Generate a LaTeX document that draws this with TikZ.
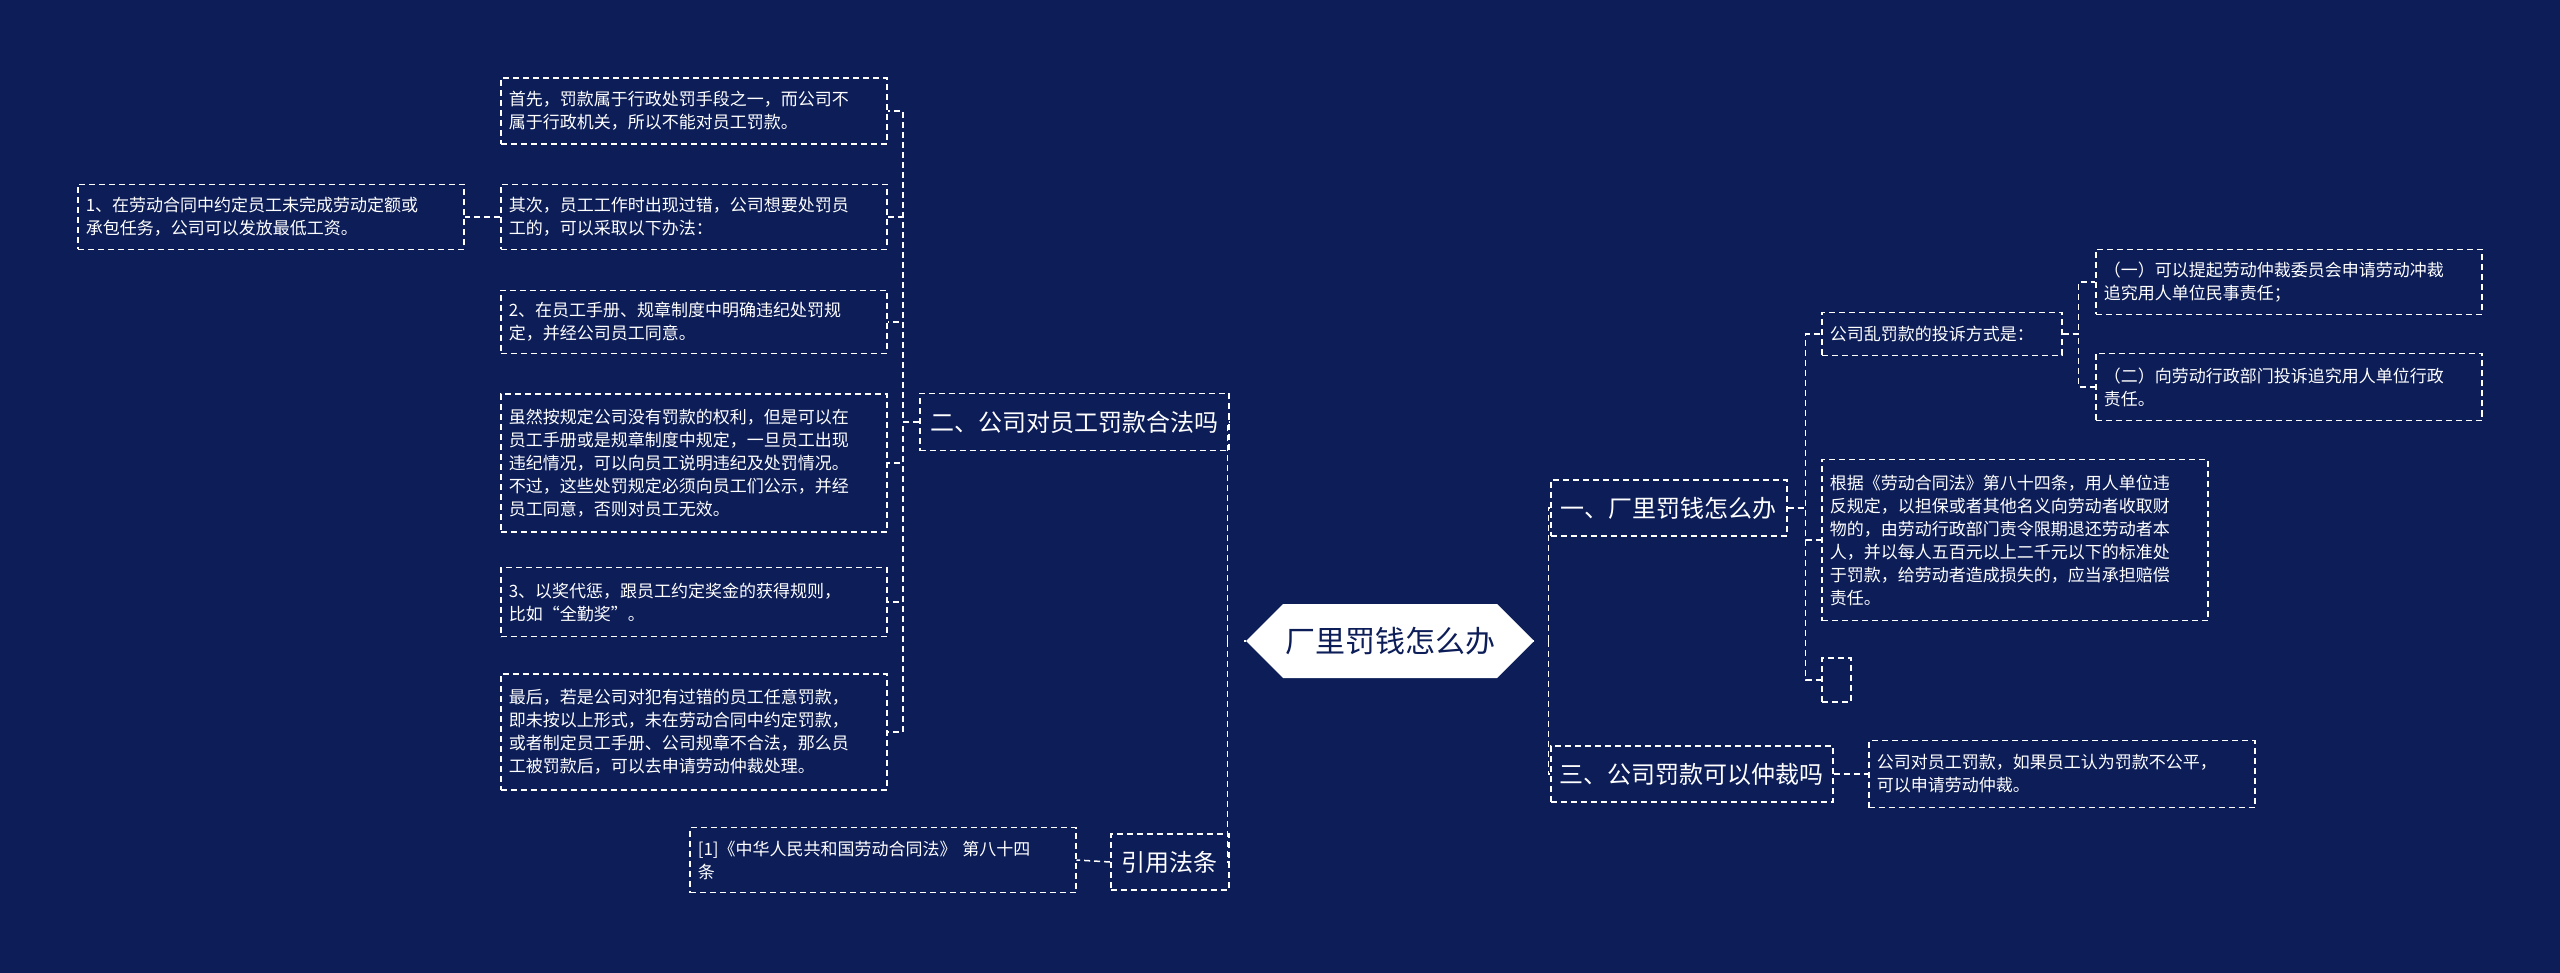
\documentclass[tikz,border=0pt]{standalone}
\usepackage{fontspec}
\setmainfont{Noto Sans CJK SC}
\usetikzlibrary{shapes.symbols}
\definecolor{bg}{HTML}{0C1D58}
\tikzset{
  dsh/.style={draw=white,line width=1.5pt,dash pattern=on 6pt off 4pt},
  leaf/.style={dsh,text=white,anchor=west,text width=370pt,inner sep=8pt,align=left,font=\fontsize{17}{23}\selectfont},
  branch/.style={dsh,text=white,anchor=west,inner sep=6pt,align=center,font=\fontsize{24}{28}\selectfont},
  link/.style={dsh},
}
\begin{document}
\begin{tikzpicture}[x=1pt,y=-1pt]
\fill[bg] (0,0) rectangle (2560,973);
\useasboundingbox (0,0) rectangle (2560,973);
% center
\node[signal,signal to=west and east,fill=white,minimum width=256pt,minimum height=74pt,inner sep=2pt,text=bg,font=\fontsize{30}{34}\selectfont] (c) at (1390,641) {厂里罚钱怎么办};
% left branch
\node[branch,minimum width=309pt,minimum height=57pt] (b2) at (919,422) {二、公司对员工罚款合法吗};
\node[branch,minimum width=118pt,minimum height=56pt] (ref) at (1110,862) {引用法条};
\node[leaf,minimum height=66pt] (a) at (500,111) {首先，罚款属于行政处罚手段之一，而公司不\\属于行政机关，所以不能对员工罚款。};
\node[leaf,minimum height=65pt] (b) at (500,217) {其次，员工工作时出现过错，公司想要处罚员\\工的，可以采取以下办法：};
\node[leaf,minimum height=63pt] (cc) at (500,322) { 2、在员工手册、规章制度中明确违纪处罚规\\定，并经公司员工同意。};
\node[leaf,minimum height=138pt] (d) at (500,463) {虽然按规定公司没有罚款的权利，但是可以在\\员工手册或是规章制度中规定，一旦员工出现\\违纪情况，可以向员工说明违纪及处罚情况。\\不过，这些处罚规定必须向员工们公示，并经\\员工同意，否则对员工无效。};
\node[leaf,minimum height=69pt] (e) at (500,602) { 3、以奖代惩，跟员工约定奖金的获得规则，\\比如“全勤奖”。};
\node[leaf,minimum height=116pt] (f) at (500,732) {最后，若是公司对犯有过错的员工任意罚款，\\即未按以上形式，未在劳动合同中约定罚款，\\或者制定员工手册、公司规章不合法，那么员\\工被罚款后，可以去申请劳动仲裁处理。};
\node[leaf,minimum height=65pt] (b1) at (77,217) {1、在劳动合同中约定员工未完成劳动定额或\\承包任务，公司可以发放最低工资。};
\node[leaf,minimum height=65pt] (r1) at (689,860) {[1]《中华人民共和国劳动合同法》 第八十四\\条};
% right branch
\node[branch,minimum width=236pt,minimum height=56pt] (b1r) at (1550,508) {一、厂里罚钱怎么办};
\node[branch,minimum width=282pt,minimum height=56pt] (b3) at (1550,774) {三、公司罚款可以仲裁吗};
\node[leaf,minimum height=67pt] (b3c) at (1868,774) {公司对员工罚款，如果员工认为罚款不公平，\\可以申请劳动仲裁。};
\node[leaf,text width=224pt,minimum height=43pt] (ts) at (1821,334) {公司乱罚款的投诉方式是：};
\node[leaf,minimum height=161pt] (big) at (1821,540) {根据《劳动合同法》第八十四条，用人单位违\\反规定，以担保或者其他名义向劳动者收取财\\物的，由劳动行政部门责令限期退还劳动者本\\人，并以每人五百元以上二千元以下的标准处\\于罚款，给劳动者造成损失的，应当承担赔偿\\责任。};
\node[dsh,anchor=west,minimum width=29pt,minimum height=44pt,inner sep=0pt] (emp) at (1821,680) {};
\node[leaf,minimum height=65pt] (t1) at (2095,282) {（一）可以提起劳动仲裁委员会申请劳动冲裁\\追究用人单位民事责任；};
\node[leaf,minimum height=67pt] (t2) at (2095,387) {（二）向劳动行政部门投诉追究用人单位行政\\责任。};
% connectors
\draw[white,line width=1.5pt] (c.west) -- (1244,641);
\draw[white,line width=1.5pt] (c.east) -- (1532,641);
\foreach \n in {b2,ref} \draw[link] (c.west) ++(-18,0) |- (\n.east);
\foreach \n in {b1r,b3} \draw[link] (c.east) ++(14,0) |- (\n.west);
\foreach \n in {a,b,cc,d,e,f} \draw[link] (b2.west) -- ++(-16,0) |- (\n.east);
\draw[link] (b.west) -- (b1.east);
\draw[link] (ref.west) -- (r1.east);
\foreach \n in {ts,big,emp} \draw[link] (b1r.east) -- ++(18,0) |- (\n.west);
\foreach \n in {t1,t2} \draw[link] (ts.east) -- ++(16,0) |- (\n.west);
\draw[link] (b3.east) -- (b3c.west);
\end{tikzpicture}
\end{document}
